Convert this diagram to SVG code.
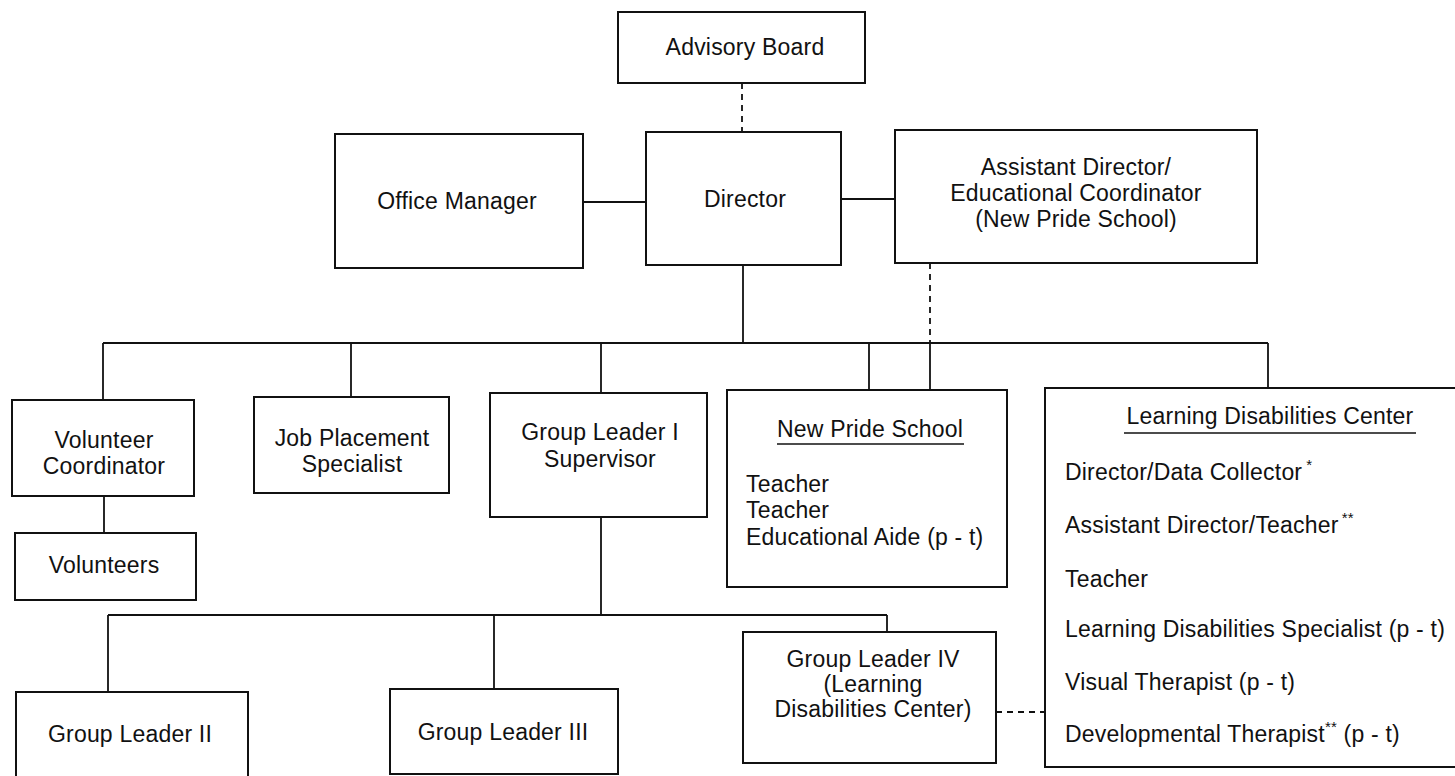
<svg xmlns="http://www.w3.org/2000/svg" width="1455" height="776" viewBox="0 0 1455 776">
<style>
.box{fill:#fff;stroke:#111;stroke-width:2}
.ln{stroke:#111;stroke-width:1.8;fill:none}
.ds{stroke:#111;stroke-width:1.8;fill:none;stroke-dasharray:6 5}
text{font-family:"Liberation Sans",Arial,sans-serif;font-size:23px;fill:#111;letter-spacing:0.2px}
.c{text-anchor:middle}
.sup{font-size:15px}
</style>
<rect width="1455" height="776" fill="#fff"/>
<g id="connectors">
<line class="ds" x1="742" y1="83" x2="742" y2="132"/>
<line class="ln" x1="583" y1="202" x2="646" y2="202"/>
<line class="ln" x1="841" y1="199" x2="895" y2="199"/>
<line class="ln" x1="743" y1="265" x2="743" y2="343"/>
<line class="ds" x1="930" y1="263" x2="930" y2="343"/>
<line class="ln" x1="930" y1="343" x2="930" y2="390"/>
<line class="ln" x1="103" y1="343" x2="1268" y2="343"/>
<line class="ln" x1="103" y1="343" x2="103" y2="400"/>
<line class="ln" x1="351" y1="343" x2="351" y2="397"/>
<line class="ln" x1="601" y1="343" x2="601" y2="393"/>
<line class="ln" x1="869" y1="343" x2="869" y2="390"/>
<line class="ln" x1="1268" y1="343" x2="1268" y2="388"/>
<line class="ln" x1="104" y1="496" x2="104" y2="533"/>
<line class="ln" x1="601" y1="517" x2="601" y2="615"/>
<line class="ln" x1="108" y1="615" x2="887" y2="615"/>
<line class="ln" x1="108" y1="615" x2="108" y2="692"/>
<line class="ln" x1="494" y1="615" x2="494" y2="689"/>
<line class="ln" x1="887" y1="615" x2="887" y2="632"/>
<line class="ds" x1="996" y1="712" x2="1045" y2="712"/>
</g>
<g id="advisory-board"><rect class="box" x="618" y="12" width="247" height="71"/><text class="c" x="745" y="55">Advisory Board</text></g>
<g id="office-manager"><rect class="box" x="335" y="134" width="248" height="134"/><text class="c" x="457" y="209">Office Manager</text></g>
<g id="director"><rect class="box" x="646" y="132" width="195" height="133"/><text class="c" x="745" y="207">Director</text></g>
<g id="assistant-director"><rect class="box" x="895" y="130" width="362" height="133"/>
<text class="c" x="1076" y="175">Assistant Director/</text>
<text class="c" x="1076" y="201">Educational Coordinator</text>
<text class="c" x="1076" y="227">(New Pride School)</text></g>
<g id="volunteer-coordinator"><rect class="box" x="12" y="400" width="182" height="96"/>
<text class="c" x="104" y="448">Volunteer</text><text class="c" x="104" y="474">Coordinator</text></g>
<g id="volunteers"><rect class="box" x="15" y="533" width="181" height="67"/><text class="c" x="104" y="573">Volunteers</text></g>
<g id="job-placement"><rect class="box" x="254" y="397" width="195" height="96"/>
<text class="c" x="352" y="446">Job Placement</text><text class="c" x="352" y="472">Specialist</text></g>
<g id="group-leader-1"><rect class="box" x="490" y="393" width="217" height="124"/>
<text class="c" x="600" y="440">Group Leader I</text><text class="c" x="600" y="467">Supervisor</text></g>
<g id="new-pride-school"><rect class="box" x="727" y="390" width="280" height="197"/>
<text class="c" x="870" y="437">New Pride School</text>
<line x1="777" y1="444" x2="964" y2="444" stroke="#111" stroke-width="1.5"/>
<text x="746" y="492">Teacher</text>
<text x="746" y="518">Teacher</text>
<text x="746" y="545">Educational Aide (p - t)</text></g>
<g id="learning-disabilities-center"><rect class="box" x="1045" y="388" width="420" height="379"/>
<text class="c" x="1270" y="424">Learning Disabilities Center</text>
<line x1="1124" y1="433" x2="1416" y2="433" stroke="#111" stroke-width="1.5"/>
<text x="1065" y="480">Director/Data Collector<tspan class="sup" dx="4" dy="-10">*</tspan></text>
<text x="1065" y="533">Assistant Director/Teacher<tspan class="sup" dx="3" dy="-10">**</tspan></text>
<text x="1065" y="587">Teacher</text>
<text x="1065" y="637">Learning Disabilities Specialist (p - t)</text>
<text x="1065" y="690">Visual Therapist (p - t)</text>
<text x="1065" y="742">Developmental Therapist<tspan class="sup" dy="-10">**</tspan><tspan dy="10"> (p - t)</tspan></text></g>
<g id="group-leader-2"><rect class="box" x="16" y="692" width="232" height="100"/><text class="c" x="130" y="742">Group Leader II</text></g>
<g id="group-leader-3"><rect class="box" x="390" y="689" width="228" height="85"/><text class="c" x="503" y="740">Group Leader III</text></g>
<g id="group-leader-4"><rect class="box" x="743" y="632" width="253" height="131"/>
<text class="c" x="873" y="667">Group Leader  IV</text>
<text class="c" x="873" y="692">(Learning</text>
<text class="c" x="873" y="717">Disabilities Center)</text></g>
</svg>
